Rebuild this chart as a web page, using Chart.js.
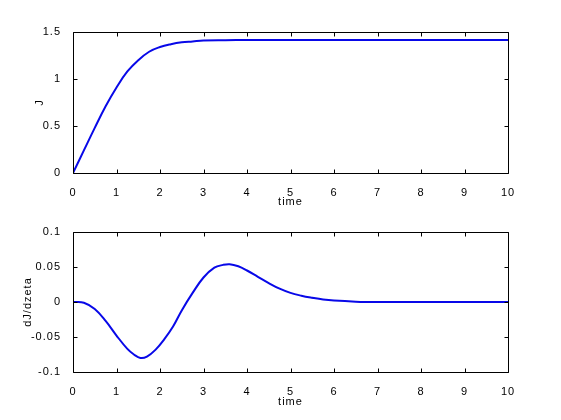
<!DOCTYPE html>
<html><head><meta charset="utf-8">
<script src="https://cdn.jsdelivr.net/npm/chart.js@4/dist/chart.umd.min.js"></script>
<style>
html,body{margin:0;padding:0;background:#fff;width:561px;height:420px;overflow:hidden}
.c{position:absolute;left:0;width:561px;height:210px}
</style></head><body>
<div class="c" style="top:0"><canvas id="a" width="561" height="210"></canvas></div>
<div class="c" style="top:210px"><canvas id="b" width="561" height="210"></canvas></div>
<script>
// ---- data ----
const timeJ = [0,0.25,0.5,0.75,1,1.25,1.5,1.75,2,2.25,2.5,2.75,3,3.5,4,5,6,7,8,9,10];
const J     = [0,0.24,0.48,0.71,0.91,1.08,1.20,1.29,1.34,1.37,1.39,1.40,1.41,1.413,1.414,1.414,1.414,1.414,1.414,1.414,1.414];
const timeD = [0,0.25,0.5,0.75,1,1.25,1.4,1.55,1.7,1.9,2.1,2.3,2.5,2.75,3,3.25,3.45,3.6,3.8,4,4.25,4.5,4.75,5,5.25,5.5,5.75,6,6.5,7,8,9,10];
const dJdzeta = [0,-0.001,-0.010,-0.027,-0.048,-0.067,-0.075,-0.080,-0.078,-0.068,-0.053,-0.035,-0.012,0.013,0.035,0.049,0.053,0.054,0.051,0.045,0.036,0.027,0.019,0.013,0.009,0.006,0.0035,0.002,0.0005,0,0,0,0];
const xTicks = [0,1,2,3,4,5,6,7,8,9,10];
const jTicks = [0,0.5,1,1.5];
const dTicks = [-0.1,-0.05,0,0.05,0.1];
const xLabel = 'time';
const jLabel = 'J';
const dLabel = 'dJ/dzeta';

const FONT = {family:'"Liberation Sans", Arial, sans-serif', size:11};
Chart.defaults.color = '#000';

const spacing = {id:'spacing', beforeInit(chart){ chart.ctx.letterSpacing='1px'; }, beforeDraw(chart){ chart.ctx.letterSpacing='1px'; }};

const frame = {
  id:'frame',
  afterDatasetsDraw(chart){
    const {ctx, chartArea:a, scales:{x,y}} = chart;
    const L=Math.round(a.left)+0.5, R=Math.round(a.right)+0.5, T=Math.round(a.top)+0.5, B=Math.round(a.bottom)+0.5;
    ctx.save();
    ctx.strokeStyle='#000'; ctx.lineWidth=1;
    ctx.beginPath();
    ctx.moveTo(L,T);ctx.lineTo(R,T);ctx.lineTo(R,B);ctx.lineTo(L,B);ctx.closePath();
    const tl=4;
    x.ticks.forEach(t=>{const px=Math.round(x.getPixelForValue(t.value))+0.5;
      ctx.moveTo(px,B);ctx.lineTo(px,B-tl);ctx.moveTo(px,T);ctx.lineTo(px,T+tl);});
    y.ticks.forEach(t=>{const py=Math.round(y.getPixelForValue(t.value))+0.5;
      ctx.moveTo(L,py);ctx.lineTo(L+tl,py);ctx.moveTo(R,py);ctx.lineTo(R-tl,py);});
    ctx.stroke();
    ctx.restore();
  }
};

function make(id, tx, ty, yTicks, yLabel, padTop, xHeight, yTitlePad, xTitlePad){
  const fmt = v => String(Math.round(v*1000)/1000);
  return new Chart(document.getElementById(id), {
    type:'line',
    data:{datasets:[{data:tx.map((t,i)=>({x:t,y:ty[i]})), borderColor:'#0808e8', borderWidth:2,
      pointRadius:0, tension:0.4, fill:false}]},
    options:{
      responsive:false, animation:false, events:[],
      layout:{padding:{top:padTop,right:53,left:0,bottom:0}},
      plugins:{legend:{display:false},tooltip:{enabled:false}},
      scales:{
        x:{type:'linear', min:0, max:10,
          afterBuildTicks:s=>{s.ticks=xTicks.map(v=>({value:v}));},
          afterFit:s=>{s.height=xHeight;},
          grid:{display:false}, border:{display:false},
          ticks:{font:FONT, padding:5, maxRotation:0, autoSkip:false, callback:fmt},
          title:{display:true, text:xLabel, font:FONT, padding:{top:0,bottom:xTitlePad}}},
        y:{type:'linear', min:yTicks[0], max:yTicks[yTicks.length-1],
          afterBuildTicks:s=>{s.ticks=yTicks.map(v=>({value:v}));},
          afterFit:s=>{s.width=73;},
          grid:{display:false}, border:{display:false},
          ticks:{font:FONT, padding:4, autoSkip:false, callback:fmt},
          title:{display:true, text:yLabel, font:FONT, padding:{top:yTitlePad,bottom:0}}}
      }
    },
    plugins:[spacing, frame]
  });
}
make('a', timeJ, J, jTicks, jLabel, 32, 37, 33, 1);
make('b', timeD, dJdzeta, dTicks, dLabel, 22, 48, 21, 11);
</script>
</body></html>
